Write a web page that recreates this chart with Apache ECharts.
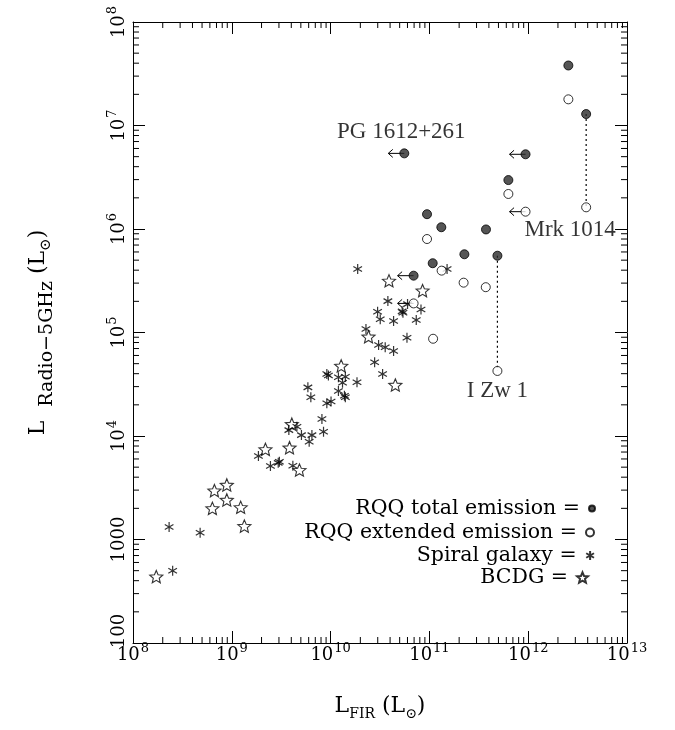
<!DOCTYPE html>
<html><head><meta charset="utf-8">
<script src="https://cdn.jsdelivr.net/npm/echarts@6/dist/echarts.min.js"></script>
<style>html,body{margin:0;padding:0;background:#fff}#c{width:675px;height:730px}</style>
</head><body><div id="c"></div>
<script>
// ---- data (L_FIR, L_Radio-5GHz in solar units) ----
const rqqTotalX = [5.57e10, 6.92e10, 9.46e10, 1.08e11, 1.32e11, 2.26e11, 3.74e11, 4.88e11, 6.3e11, 9.4e11, 2.55e12, 3.86e12];
const rqqTotalY = [5.38e6, 3.54e5, 1.39e6, 4.67e5, 1.04e6, 5.7e5, 9.9e5, 5.52e5, 2.97e6, 5.27e6, 3.8e7, 1.29e7];
const rqqExtX = [6.92e10, 9.46e10, 1.09e11, 1.33e11, 2.22e11, 3.72e11, 4.88e11, 6.3e11, 9.4e11, 2.55e12, 3.86e12];
const rqqExtY = [1.91e5, 8.0e5, 8.7e4, 3.96e5, 3.03e5, 2.74e5, 4.25e4, 2.18e6, 1.47e6, 1.79e7, 1.62e6];
const spiralX = [2.32e8, 4.78e8, 2.52e8, 1.86e9, 2.46e9, 3.03e9, 2.95e9, 4.15e9, 3.78e9, 4.56e9, 5.07e9, 6.07e9, 6.47e9, 8.48e9, 8.17e9, 9.16e9, 1.01e10, 5.89e9, 6.31e9, 9.16e9, 9.5e9, 1.2e10, 1.41e10, 1.32e10, 1.85e10, 1.2e10, 1.41e10, 1.38e10, 2.79e10, 3.36e10, 3.06e10, 3.57e10, 4.34e10, 2.28e10, 5.93e10, 2.99e10, 3.18e10, 4.34e10, 7.36e10, 3.8e10, 6.01e10, 5.4e10, 5.3e10, 8.22e10, 1.88e10, 1.51e11];
const spiralY = [1322, 1164, 500, 6410, 5130, 5650, 5500, 5160, 1.14e4, 1.23e4, 1.02e4, 8810, 1.02e4, 1.10e4, 1.46e4, 2.07e4, 2.15e4, 2.95e4, 2.37e4, 3.97e4, 3.85e4, 3.69e4, 3.74e4, 3.27e4, 3.30e4, 2.72e4, 2.37e4, 2.45e4, 5.15e4, 3.97e4, 7.57e4, 7.2e4, 6.63e4, 1.08e5, 8.9e4, 1.59e5, 1.34e5, 1.29e5, 1.32e5, 2.01e5, 1.88e5, 1.55e5, 1.6e5, 1.67e5, 4.11e5, 4.11e5];
const bcdgX = [1.72e8, 6.67e8, 8.9e8, 8.9e8, 6.36e8, 1.23e9, 1.34e9, 2.19e9, 3.84e9, 4.84e9, 4.05e9, 1.28e10, 2.42e10, 3.9e10, 8.53e10, 4.52e10];
const bcdgY = [438, 2966, 3365, 2410, 2000, 2048, 1349, 7430, 7710, 4690, 1.3e4, 4.76e4, 9.1e4, 3.16e5, 2.54e5, 3.11e4];
// upper limits (index into arrays)
const limitTotalIdx = [0, 1, 9];
const limitExtIdx = [0, 8];
// total <-> extended pairs joined by dotted line
const pairTotalIdx = [11, 7];
const pairExtIdx = [10, 6];
// annotations
const annotNames = ['PG 1612+261', 'Mrk 1014', 'I Zw 1'];
// tick labels
const xTickBase = ['10', '10', '10', '10', '10', '10'];
const xTickSup = ['8', '9', '10', '11', '12', '13'];
const yTickBase = ['100', '1000', '10', '10', '10', '10', '10'];
const yTickSup = ['', '', '4', '5', '6', '7', '8'];
const legendNames = ['RQQ total emission', 'RQQ extended emission', 'Spiral galaxy', 'BCDG'];

const SERIF = 'DejaVu Serif';
const zip = (a, b) => a.map((v, i) => [v, b[i]]);
const ASTER = 'path://M5,0L5,10M0.67,2.5L9.33,7.5M0.67,7.5L9.33,2.5';
const STAR = 'path://M10,0L12.645,6.359L19.511,6.91L14.28,11.391L15.878,18.09L10,14.5L4.122,18.09L5.72,11.391L0.489,6.91L7.355,6.359Z';

const tickRich = {
  b: { fontFamily: SERIF, fontSize: 18, lineHeight: 20, color: '#000' },
  c: { fontFamily: SERIF, fontSize: 18, lineHeight: 20, padding: [0, 0, 0, 24], color: '#000' },
  s: { fontFamily: SERIF, fontSize: 13, lineHeight: 13, padding: [0, 0, 12, 1], color: '#000' }
};
function xLab(v) {
  const i = Math.round(Math.log10(v)) - 8;
  return '{b|' + xTickBase[i] + '}{s|' + xTickSup[i] + '}';
}
function yLab(v) {
  const i = Math.round(Math.log10(v)) - 2;
  if (i === 0) return '{c|' + yTickBase[i] + '}';
  return yTickSup[i] ? '{b|' + yTickBase[i] + '}{s|' + yTickSup[i] + '}' : '{b|' + yTickBase[i] + '}';
}
const xTitleRich = {
  L: { fontFamily: SERIF, fontSize: 22, lineHeight: 26, color: '#000' },
  sub: { fontFamily: SERIF, fontSize: 14, lineHeight: 14, padding: [17, 0, 0, 0], color: '#000' }
};
const yTitleRich = {
  L: { fontFamily: SERIF, fontSize: 22, lineHeight: 26, color: '#000' },
  sub: { fontFamily: SERIF, fontSize: 19, lineHeight: 19, padding: [19, 0, 0, 0], color: '#000' },
  sub2: { fontFamily: SERIF, fontSize: 15, lineHeight: 15, padding: [17, 0, 0, 0], color: '#000' }
};

const axisCommon = {
  type: 'log', logBase: 10, splitNumber: 5,
  axisLine: { show: true, onZero: false, lineStyle: { color: '#000', width: 1 } },
  axisTick: { show: true, inside: true, length: 12, lineStyle: { color: '#000', width: 1 } },
  splitLine: { show: false }, minorTick: { show: false }
};

// minor ticks for log axes
const xMinor = [], yMinor = [];
for (let d = 8; d < 13; d++) for (let m = 2; m <= 9; m++) xMinor.push([m * Math.pow(10, d), 1e4]);
for (let d = 2; d < 8; d++) for (let m = 2; m <= 9; m++) yMinor.push([1e10, m * Math.pow(10, d)]);

const pairSeries = pairTotalIdx.map((ti, k) => ({
  type: 'line', silent: true, z: 1, symbol: 'none', animation: false,
  data: [[rqqTotalX[ti], rqqTotalY[ti]], [rqqExtX[pairExtIdx[k]], rqqExtY[pairExtIdx[k]]]],
  lineStyle: { color: '#000', width: 1.2, type: [2, 3] }
}));

const limitData = limitTotalIdx.map(i => [rqqTotalX[i], rqqTotalY[i]])
  .concat(limitExtIdx.map(i => [rqqExtX[i], rqqExtY[i]]));

const annotData = [
  { name: annotNames[0], value: [rqqTotalX[0], rqqTotalY[0]], label: { offset: [-3, -21] } },
  { name: annotNames[1], value: [rqqExtX[10], rqqExtY[10]], label: { offset: [-16, 23] } },
  { name: annotNames[2], value: [rqqExtX[6], rqqExtY[6]], label: { offset: [0, 20] } }
];

function legendAt(name, top, right, size) {
  return {
    data: [name], orient: 'vertical', align: 'right', right: right, top: top, padding: 0,
    itemWidth: size, itemHeight: size, selectedMode: false,
    formatter: n => n + ' =',
    textStyle: { fontFamily: SERIF, fontSize: 20.5, color: '#000', lineHeight: 20, padding: [0, 4, 0, 0] }
  };
}

const option = {
  animation: false,
  backgroundColor: '#fff',
  grid: { left: 133, right: 48, top: 22, bottom: 87, containLabel: false },
  legend: [
    legendAt(legendNames[0], 498, 79, 6),
    legendAt(legendNames[1], 522, 80, 8),
    legendAt(legendNames[2], 545, 80, 9),
    legendAt(legendNames[3], 567, 86, 11)
  ],
  xAxis: [
    Object.assign({}, axisCommon, {
      min: 1e8, max: 1e13, position: 'bottom',
      axisLabel: { show: true, formatter: xLab, rich: tickRich, margin: 2, showMinLabel: true, showMaxLabel: true, hideOverlap: false },
      name: '{L|L}{sub|FIR}{L| (L}{sub|\u2299}{L|)}', nameLocation: 'middle', nameGap: 50,
      nameTextStyle: { rich: xTitleRich }
    }),
    Object.assign({}, axisCommon, { min: 1e8, max: 1e13, position: 'top', axisLabel: { show: false } })
  ],
  yAxis: [
    Object.assign({}, axisCommon, {
      min: 100, max: 1e8, position: 'left',
      axisLabel: { show: true, rotate: 90, formatter: yLab, rich: tickRich, margin: 4, showMinLabel: true, showMaxLabel: true, hideOverlap: false },
      name: '{L|L  }{sub|Radio\u22125GHz}{L| (L}{sub2|\u2299}{L|)}', nameLocation: 'middle', nameGap: 82, nameRotate: 90,
      nameTextStyle: { rich: yTitleRich }
    }),
    Object.assign({}, axisCommon, { min: 100, max: 1e8, position: 'right', axisLabel: { show: false } })
  ],
  series: pairSeries.concat([
    {
      type: 'custom', silent: true, z: 2, data: limitData,
      renderItem: function (params, api) {
        const p = api.coord([api.value(0), api.value(1)]);
        return { type: 'group', children: [
          { type: 'line', shape: { x1: p[0] - 16, y1: p[1], x2: p[0], y2: p[1] }, style: { stroke: '#000', lineWidth: 1 } },
          { type: 'polyline', shape: { points: [[p[0] - 11.5, p[1] - 4], [p[0] - 16, p[1]], [p[0] - 11.5, p[1] + 4]] }, style: { stroke: '#000', fill: null, lineWidth: 1 } }
        ] };
      }
    },
    {
      name: legendNames[3], type: 'scatter', z: 3, data: zip(bcdgX, bcdgY),
      symbol: STAR, symbolSize: 13, symbolKeepAspect: true,
      itemStyle: { color: '#fff', borderColor: '#000', borderWidth: 1.1 }
    },
    {
      name: legendNames[2], type: 'scatter', z: 4, data: zip(spiralX, spiralY),
      symbol: ASTER, symbolSize: 10, symbolKeepAspect: true,
      itemStyle: { color: 'rgba(0,0,0,0)', borderColor: '#000', borderWidth: 1.2 }
    },
    {
      name: legendNames[1], type: 'scatter', z: 5, data: zip(rqqExtX, rqqExtY),
      symbol: 'circle', symbolSize: 9,
      itemStyle: { color: '#fff', borderColor: '#000', borderWidth: 1 }
    },
    {
      name: legendNames[0], type: 'scatter', z: 6, data: zip(rqqTotalX, rqqTotalY),
      symbol: 'circle', symbolSize: 9,
      itemStyle: { color: '#2a2a2a', borderColor: '#000', borderWidth: 1 }
    },
    {
      type: 'scatter', silent: true, z: 7, data: annotData,
      symbol: 'circle', symbolSize: 1, itemStyle: { color: 'rgba(0,0,0,0)' },
      label: { show: true, position: 'inside', formatter: '{b}', fontFamily: 'Liberation Serif', fontSize: 23, color: '#000' }
    },
    {
      type: 'custom', silent: true, z: 10, data: xMinor,
      renderItem: function (params, api) {
        const cs = params.coordSys;
        const x = api.coord([api.value(0), api.value(1)])[0];
        const b = cs.y + cs.height, t = cs.y;
        return { type: 'group', children: [
          { type: 'line', shape: { x1: x, y1: b, x2: x, y2: b - 6 }, style: { stroke: '#000', lineWidth: 1 } },
          { type: 'line', shape: { x1: x, y1: t, x2: x, y2: t + 6 }, style: { stroke: '#000', lineWidth: 1 } }
        ] };
      }
    },
    {
      type: 'custom', silent: true, z: 10, data: yMinor,
      renderItem: function (params, api) {
        const cs = params.coordSys;
        const y = api.coord([api.value(0), api.value(1)])[1];
        const l = cs.x, r = cs.x + cs.width;
        return { type: 'group', children: [
          { type: 'line', shape: { x1: l, y1: y, x2: l + 6, y2: y }, style: { stroke: '#000', lineWidth: 1 } },
          { type: 'line', shape: { x1: r, y1: y, x2: r - 6, y2: y }, style: { stroke: '#000', lineWidth: 1 } }
        ] };
      }
    }
  ])
};
const chart = echarts.init(document.getElementById('c'), null, { renderer: 'canvas' });
chart.setOption(option);
</script>
</body></html>
